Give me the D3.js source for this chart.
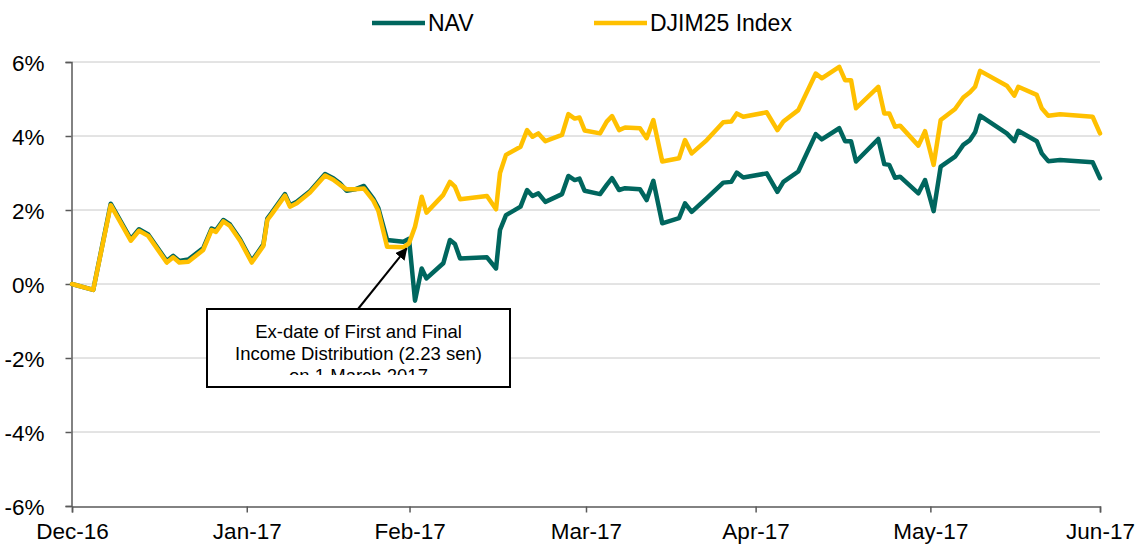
<!DOCTYPE html>
<html lang="en">
  <head>
    <meta charset="utf-8">
    <script src="https://cdn.jsdelivr.net/npm/d3@7"></script>
    <style>
      body { margin: 0; background: #fff; }
      text { font-family: "Liberation Sans", Arial, sans-serif; fill: #000; }
    </style>
  </head>
  <body>
    <script type="text/javascript">

      // Data (x = months since Dec-16, values in %)
      var tickLabels = ["Dec-16", "Jan-17", "Feb-17", "Mar-17", "Apr-17", "May-17", "Jun-17"];
      var tickAt = [0, 1.02, 1.97, 3, 3.99, 5.01, 6];
      var yTicks = [-6, -4, -2, 0, 2, 4, 6];

      var months = [0, 0.124, 0.226, 0.343, 0.391, 0.445, 0.553, 0.591, 0.626, 0.679,
        0.766, 0.815, 0.840, 0.883, 0.922, 0.981, 1.049, 1.117, 1.140, 1.166,
        1.243, 1.272, 1.312, 1.389, 1.477, 1.525, 1.564, 1.603, 1.652, 1.704,
        1.759, 1.788, 1.839, 1.934, 1.967, 2.002, 2.041, 2.069, 2.167, 2.206,
        2.235, 2.265, 2.422, 2.475, 2.498, 2.533, 2.618, 2.656, 2.688, 2.722,
        2.763, 2.860, 2.897, 2.934, 2.962, 2.992, 3.082, 3.121, 3.152, 3.193,
        3.228, 3.315, 3.354, 3.393, 3.445, 3.543, 3.578, 3.617, 3.705, 3.801,
        3.848, 3.880, 3.918, 4.055, 4.117, 4.152, 4.239, 4.341, 4.376, 4.478,
        4.512, 4.547, 4.576, 4.706, 4.741, 4.770, 4.804, 4.833, 4.940, 4.979,
        5.029, 5.070, 5.154, 5.202, 5.241, 5.271, 5.300, 5.456, 5.500, 5.523,
        5.631, 5.660, 5.698, 5.767, 5.957, 6.0];

      var nav = [0, -0.16, 2.17, 1.21, 1.48, 1.34, 0.62, 0.76, 0.62, 0.66,
        0.97, 1.50, 1.45, 1.73, 1.61, 1.21, 0.62, 1.07, 1.77, 1.93,
        2.43, 2.13, 2.22, 2.51, 2.97, 2.86, 2.72, 2.52, 2.56, 2.65,
        2.30, 2.05, 1.19, 1.14, 1.22, -0.45, 0.42, 0.15, 0.56, 1.19,
        1.08, 0.69, 0.72, 0.42, 1.46, 1.86, 2.09, 2.54, 2.38, 2.45,
        2.22, 2.43, 2.92, 2.81, 2.85, 2.52, 2.43, 2.68, 2.86, 2.54,
        2.59, 2.56, 2.27, 2.79, 1.64, 1.78, 2.18, 1.95, 2.32, 2.74,
        2.76, 3.01, 2.88, 2.99, 2.49, 2.76, 3.04, 4.05, 3.91, 4.21,
        3.86, 3.86, 3.31, 3.92, 3.24, 3.22, 2.87, 2.90, 2.45, 2.81,
        1.97, 3.17, 3.44, 3.76, 3.89, 4.10, 4.55, 4.07, 3.86, 4.14,
        3.86, 3.53, 3.32, 3.35, 3.29, 2.86];

      var djim = [0, -0.16, 2.13, 1.17, 1.44, 1.30, 0.58, 0.72, 0.58, 0.60,
        0.92, 1.46, 1.41, 1.69, 1.57, 1.17, 0.58, 1.03, 1.73, 1.89,
        2.39, 2.09, 2.18, 2.47, 2.93, 2.82, 2.68, 2.56, 2.56, 2.58,
        2.25, 1.98, 1.01, 0.99, 1.10, 1.55, 2.36, 1.93, 2.41, 2.76,
        2.63, 2.29, 2.38, 2.02, 3.00, 3.49, 3.71, 4.16, 3.98, 4.07,
        3.86, 4.03, 4.59, 4.47, 4.50, 4.15, 4.07, 4.39, 4.54, 4.16,
        4.23, 4.21, 3.94, 4.43, 3.31, 3.40, 3.89, 3.53, 3.89, 4.37,
        4.39, 4.61, 4.52, 4.64, 4.16, 4.39, 4.70, 5.69, 5.56, 5.87,
        5.51, 5.51, 4.75, 5.33, 4.61, 4.61, 4.25, 4.28, 3.74, 4.13,
        3.22, 4.43, 4.73, 5.04, 5.18, 5.33, 5.76, 5.36, 5.09, 5.33,
        5.11, 4.75, 4.55, 4.59, 4.52, 4.07];

      var seriesNames = ["NAV", "DJIM25 Index"];
      var seriesColors = ["#00665E", "#FFC000"];

      // annotation target (month, %)
      var noteAt = [1.953, 0.96];
      var noteLines = ["Ex-date of First and Final", "Income Distribution (2.23 sen)", "on 1 March 2017"];

      //Width and height
      var svgWidth = 1140;
      var svgHeight = 545;

      var svg = d3.select("body")
        .append("svg")
        .attr("width", svgWidth)
        .attr("height", svgHeight);

      var x = d3.scaleLinear().domain([0, 6]).range([72, 1100]);
      var y = d3.scaleLinear().domain([-6, 6]).range([506, 62]);

      // gridlines
      svg.append("g")
        .selectAll("line")
        .data(yTicks.filter(function(d) { return d > -6; }))
        .enter().append("line")
        .attr("x1", x(0)).attr("x2", x(6))
        .attr("y1", function(d) { return y(d); })
        .attr("y2", function(d) { return y(d); })
        .attr("stroke", "#c8c8c8")
        .attr("stroke-width", 1);

      // y axis
      var yAxis = svg.append("g")
        .attr("transform", "translate(" + (x(0) - 0.5) + ",0)")
        .call(d3.axisLeft(y).tickValues(yTicks).tickSize(6).tickPadding(21)
          .tickFormat(function(d) { return d + "%"; }));
      yAxis.select(".domain").attr("stroke", "#595959").attr("stroke-width", 1.5);
      yAxis.selectAll(".tick line").attr("stroke", "#595959").attr("stroke-width", 1.5);
      yAxis.selectAll("text").attr("font-size", 22.5).attr("dy", "0.36em")
        .attr("font-family", "Liberation Sans, Arial, sans-serif").attr("fill", "#000");

      // x axis
      var xAxis = svg.append("g")
        .attr("transform", "translate(0," + (y(-6) + 0.5) + ")")
        .call(d3.axisBottom(x).tickValues(tickAt).tickSize(6).tickPadding(11)
          .tickFormat(function(d, i) { return tickLabels[i]; }));
      xAxis.select(".domain").attr("stroke", "#595959").attr("stroke-width", 1.5);
      xAxis.selectAll(".tick line").attr("stroke", "#595959").attr("stroke-width", 1.5);
      xAxis.selectAll("text").attr("font-size", 22.5)
        .attr("font-family", "Liberation Sans, Arial, sans-serif").attr("fill", "#000");

      // lines: NAV underneath, index on top
      var line = d3.line()
        .x(function(d) { return x(d[0]); })
        .y(function(d) { return y(d[1]); });

      [nav, djim].forEach(function(vals, k) {
        svg.append("path")
          .datum(months.map(function(m, i) { return [m, vals[i]]; }))
          .attr("fill", "none")
          .attr("stroke", seriesColors[k])
          .attr("stroke-width", 4.5)
          .attr("stroke-linejoin", "round")
          .attr("stroke-linecap", "round")
          .attr("d", line);
      });

      // legend
      var legendX = [372, 594];
      var legend = svg.append("g");
      seriesNames.forEach(function(name, k) {
        legend.append("line")
          .attr("x1", legendX[k]).attr("x2", legendX[k] + 53)
          .attr("y1", 23).attr("y2", 23)
          .attr("stroke", seriesColors[k])
          .attr("stroke-width", 4.5);
        legend.append("text")
          .attr("x", legendX[k] + 56)
          .attr("y", 31)
          .attr("font-size", 23)
          .text(name);
      });

      // annotation
      svg.append("defs").append("marker")
        .attr("id", "arrow")
        .attr("viewBox", "0 0 10 10")
        .attr("refX", 9).attr("refY", 5)
        .attr("markerWidth", 6).attr("markerHeight", 6)
        .attr("markerUnits", "strokeWidth")
        .attr("orient", "auto")
        .append("path")
        .attr("d", "M0,0 L10,5 L0,10 z")
        .attr("fill", "#000");

      svg.append("line")
        .attr("x1", 358).attr("y1", 309)
        .attr("x2", x(noteAt[0])).attr("y2", y(noteAt[1]))
        .attr("stroke", "#000")
        .attr("stroke-width", 2)
        .attr("marker-end", "url(#arrow)");

      svg.append("rect")
        .attr("x", 207).attr("y", 309)
        .attr("width", 303).attr("height", 78)
        .attr("fill", "#fff")
        .attr("stroke", "#000")
        .attr("stroke-width", 2);

      svg.append("clipPath").attr("id", "noteclip")
        .append("rect")
        .attr("x", 207).attr("y", 309)
        .attr("width", 303).attr("height", 66);

      svg.append("g")
        .attr("clip-path", "url(#noteclip)")
        .selectAll("text")
        .data(noteLines)
        .enter().append("text")
        .attr("x", 358.5)
        .attr("y", function(d, i) { return 338 + i * 22; })
        .attr("text-anchor", "middle")
        .attr("font-size", 18.5)
        .text(function(d) { return d; });
    </script>
  </body>
</html>
